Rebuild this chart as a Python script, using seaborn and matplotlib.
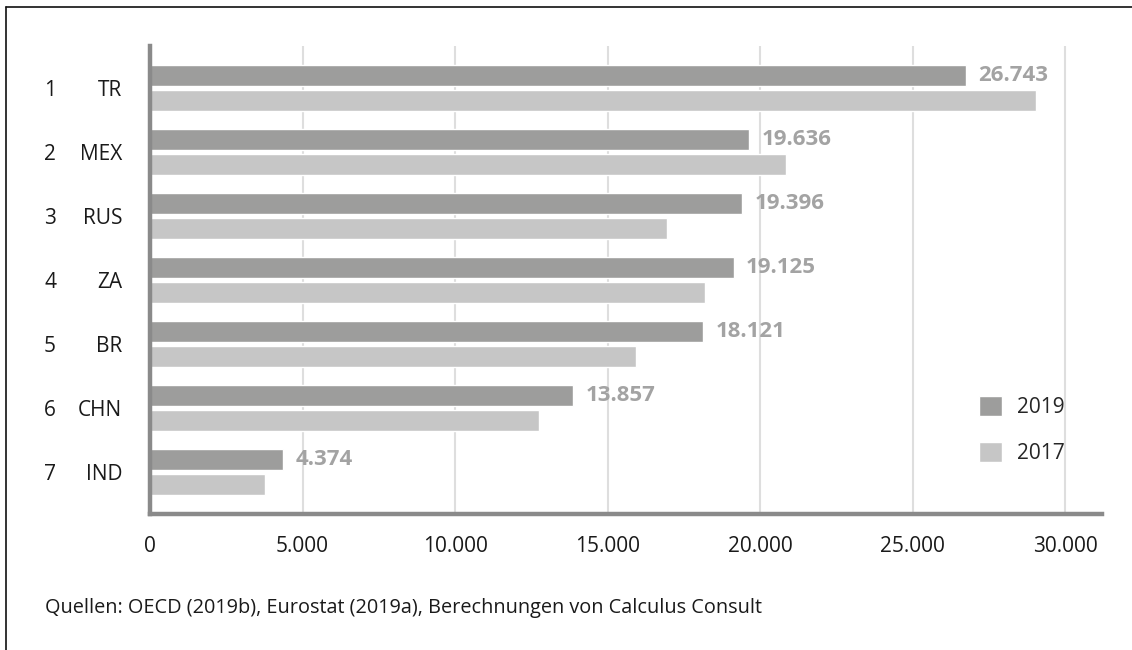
import matplotlib
matplotlib.use("Agg")
import matplotlib.pyplot as plt
from matplotlib.lines import Line2D
from matplotlib.ticker import FuncFormatter
import pandas as pd
import seaborn as sns

# data
laender = ["TR", "MEX", "RUS", "ZA", "BR", "CHN", "IND"]
rang = [1, 2, 3, 4, 5, 6, 7]
werte_2019 = [26743, 19636, 19396, 19125, 18121, 13857, 4374]
werte_2017 = [29050, 20830, 16940, 18180, 15920, 12740, 3770]
jahre = ["2019", "2017"]
quelle = "Quellen: OECD (2019b), Eurostat (2019a), Berechnungen von Calculus Consult"

df = pd.DataFrame({
    "land": laender * 2,
    "wert": werte_2019 + werte_2017,
    "jahr": ["2019"] * len(laender) + ["2017"] * len(laender),
})

sns.set_theme(style="white")
plt.rcParams["font.family"] = ["Open Sans", "DejaVu Sans"]

col_19 = "#9d9d9c"
col_17 = "#c6c6c6"
spine_col = "#8a8a8a"
label_col = "#a3a3a3"

fig = plt.figure(figsize=(11.32, 6.5), dpi=100)
ax = fig.add_axes([150 / 1132, 1 - 514 / 650, 952 / 1132, 468 / 650])

sns.barplot(data=df, y="land", x="wert", hue="jahr", hue_order=jahre,
            orient="h", palette=[col_19, col_17], width=0.78, gap=0.15,
            saturation=1, ax=ax, zorder=3)

ax.set_xlim(0, 31200)
ax.set_ylim(len(laender) - 1 + 0.66, -0.66)
ax.set_xticks(range(0, 30001, 5000))
ax.xaxis.set_major_formatter(FuncFormatter(lambda v, p: f"{int(v):,}".replace(",", ".")))
ax.grid(axis="x", color="#dedede", linewidth=1.5, zorder=0)
ax.grid(axis="y", visible=False)
ax.set_xlabel("")
ax.set_ylabel("")

for s in ["top", "right"]:
    ax.spines[s].set_visible(False)
for s in ["left", "bottom"]:
    ax.spines[s].set_color(spine_col)
    ax.spines[s].set_linewidth(3.2)
    ax.spines[s].set_zorder(4)

ax.tick_params(axis="x", length=0, pad=16, labelsize=15, labelcolor="#1a1a1a")
ax.tick_params(axis="y", length=0, pad=20, labelsize=15, labelcolor="#1a1a1a")

# rank numbers left of the country codes
for i, r in enumerate(rang):
    ax.text(-0.105, i, str(r), transform=ax.get_yaxis_transform(),
            ha="center", va="center_baseline", fontsize=15, color="#1a1a1a")

# value labels on the 2019 bars
ax.bar_label(ax.containers[0],
             labels=[f"{v:,}".replace(",", ".") for v in werte_2019],
             padding=9, fontsize=16, fontweight="bold", color=label_col)

handles, labels = ax.get_legend_handles_labels()
ax.legend(handles, labels, loc="upper left", bbox_to_anchor=(979 / 1132, 1 - 396 / 650),
          bbox_transform=fig.transFigure, frameon=False, fontsize=15,
          handlelength=1.1, handleheight=1.1, handletextpad=0.7,
          labelspacing=1.15, borderpad=0, borderaxespad=0)

fig.text(45 / 1132, 1 - 608 / 650, quelle, ha="left", va="center",
         fontsize=14.3, color="#1a1a1a")

# outer frame (top and left only)
fig.add_artist(Line2D([6 / 1132, 1], [1 - 7 / 650, 1 - 7 / 650],
                      transform=fig.transFigure, color="#111111", linewidth=1.2))
fig.add_artist(Line2D([6 / 1132, 6 / 1132], [0, 1 - 7 / 650],
                      transform=fig.transFigure, color="#111111", linewidth=1.2))

fig.savefig("out.png", dpi=100)
